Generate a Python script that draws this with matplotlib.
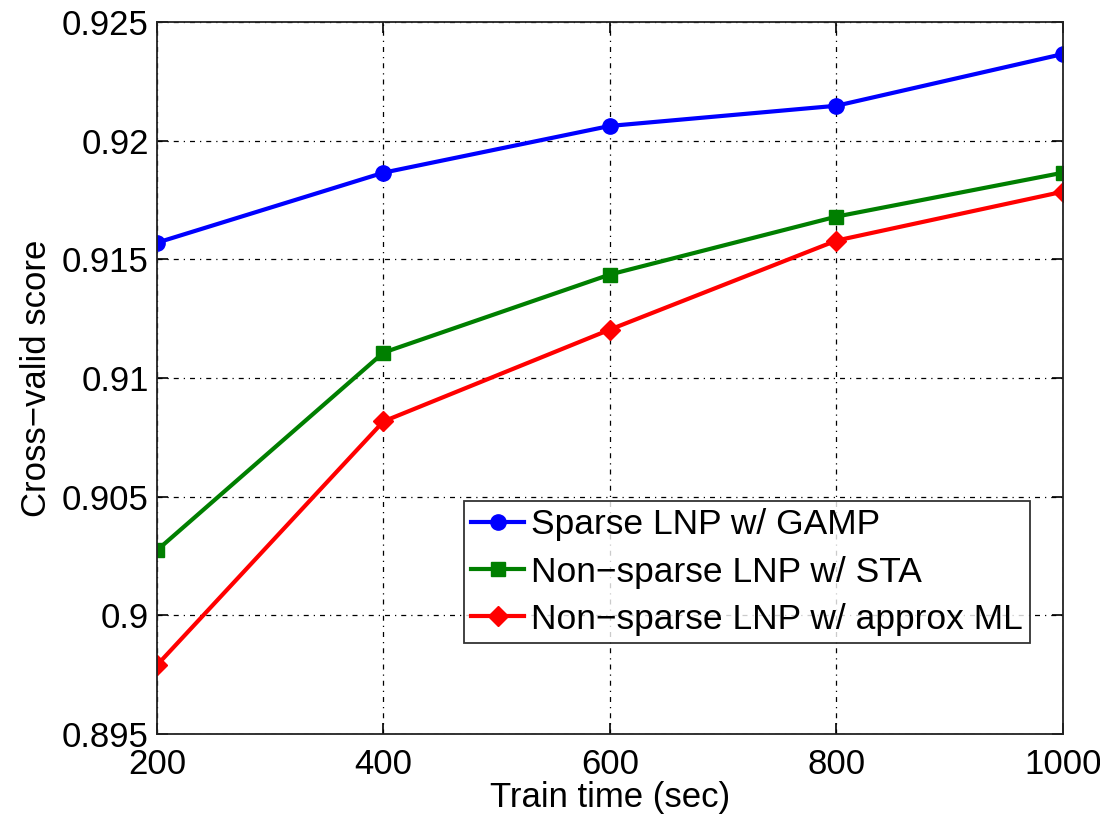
import numpy as np
import matplotlib.pyplot as plt

plt.rcParams['font.family'] = ['Liberation Sans', 'DejaVu Sans']

# Data
train_time = [200, 400, 600, 800, 1000]
gamp = [0.9157, 0.91865, 0.92062, 0.92147, 0.92365]
sta = [0.90274, 0.91107, 0.91436, 0.9168, 0.91865]
approx_ml = [0.8979, 0.90817, 0.91204, 0.91579, 0.91785]

fig = plt.figure(figsize=(11, 8.17), dpi=100)
ax = fig.add_axes([0.1427, 0.1016, 0.8236, 0.8715])

ax.plot(train_time, gamp, color='blue', marker='o', lw=3, ms=11,
        label='Sparse LNP w/ GAMP')
ax.plot(train_time, sta, color='#007f00', marker='s', lw=3, ms=10,
        label='Non\u2212sparse LNP w/ STA')
ax.plot(train_time, approx_ml, color='red', marker='D', lw=3, ms=10,
        label='Non\u2212sparse LNP w/ approx ML')

ax.set_xlim(200, 1000)
ax.set_ylim(0.895, 0.925)
ax.set_xticks([200, 400, 600, 800, 1000])
ax.set_yticks([0.895, 0.9, 0.905, 0.91, 0.915, 0.92, 0.925])
ax.set_yticklabels(['0.895', '0.9', '0.905', '0.91', '0.915', '0.92', '0.925'])
ax.tick_params(direction='in', length=8, width=1.2, labelsize=25,
               top=True, right=True)
ax.tick_params(axis='x', pad=10)
ax.tick_params(axis='y', pad=6)
ax.grid(True, color='black', linestyle=(0, (4, 4, 1, 4)), linewidth=0.9)
for s in ax.spines.values():
    s.set_linewidth(1.3)
    s.set_color('#222222')

ax.set_xlabel('Train time (sec)', fontsize=25, labelpad=0)
ax.set_ylabel('Cross\u2212valid score', fontsize=25, labelpad=6)

leg = ax.legend(loc='lower right', bbox_to_anchor=(0.964, 0.128), fontsize=25.5,
                frameon=True, fancybox=False, edgecolor='black',
                handlelength=1.5, handletextpad=0.2, borderpad=0.2,
                labelspacing=0.4, borderaxespad=0)
leg.get_frame().set_linewidth(1.3)

fig.savefig('out.png', dpi=100)
